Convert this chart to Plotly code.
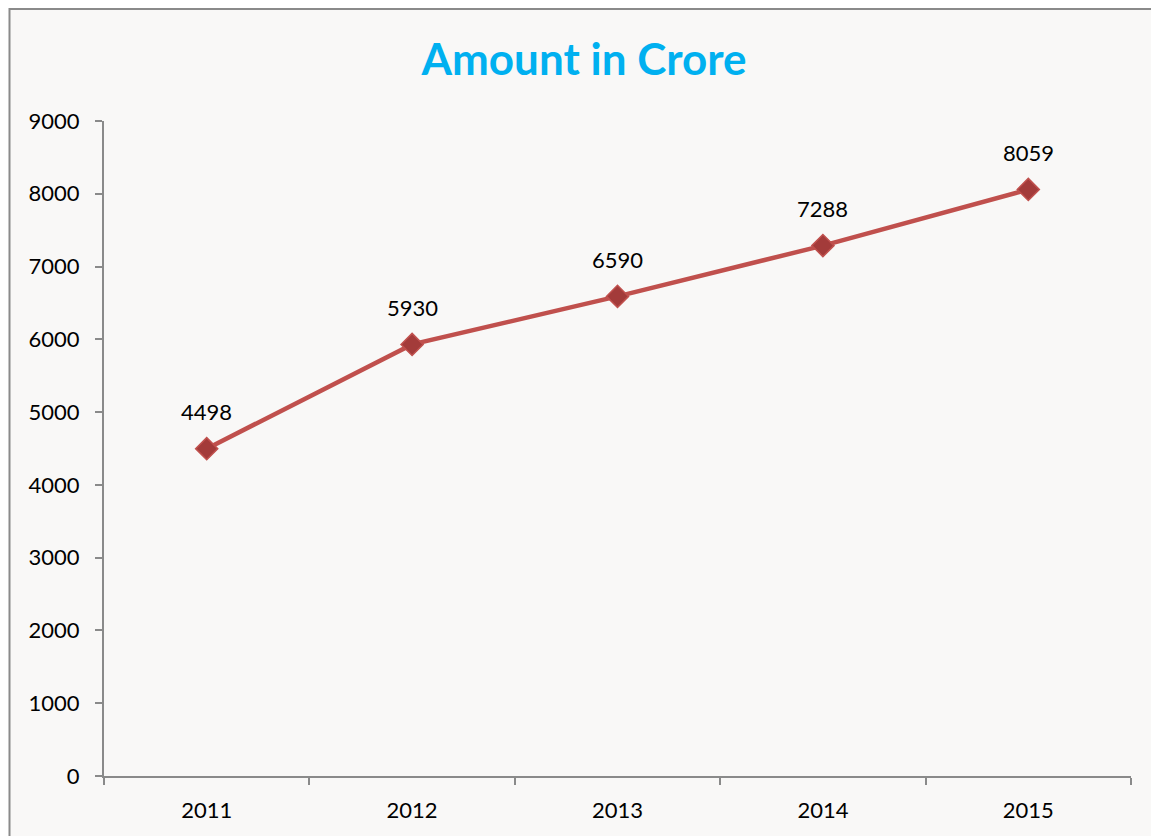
import plotly.graph_objects as go

years = ["2011", "2012", "2013", "2014", "2015"]
amounts = [4498, 5930, 6590, 7288, 8059]
y_ticks = [0, 1000, 2000, 3000, 4000, 5000, 6000, 7000, 8000, 9000]

W, H = 1151, 836
ML, MT = 104, 121
MR = W - 1131
MB = H - 776
PW = W - ML - MR
PH = H - MT - MB

FONT = "Lato"

fig = go.Figure()
fig.add_trace(go.Scatter(
    x=years, y=amounts, mode="lines+markers",
    line=dict(color="#c0504d", width=4.5),
    marker=dict(symbol="diamond", size=17, color="#a33b3a",
                line=dict(color="#c0504d", width=1.5)),
    hoverinfo="skip", showlegend=False,
))

for i, yv in enumerate(amounts):
    fig.add_annotation(x=i, y=yv, xref="x", yref="y", text=str(yv),
                       showarrow=False, yshift=37,
                       font=dict(family=FONT, size=22, color="#000000"))

# outer chart frame
fig.add_shape(type="rect", xref="paper", yref="paper",
              x0=(9.5 - ML) / PW, x1=(W + 20 - ML) / PW,
              y0=-(H + 20 - MT - PH) / PH, y1=(MT + PH - 9) / PH,
              line=dict(color="#8a8a8a", width=2), fillcolor="#f9f8f7",
              layer="below")

fig.update_layout(
    width=W, height=H,
    margin=dict(l=ML, r=MR, t=MT, b=MB),
    paper_bgcolor="#ffffff",
    plot_bgcolor="rgba(0,0,0,0)",
    title=dict(text="<b>Amount in Crore</b>", x=584 / W, xref="container",
               xanchor="center", y=1 - 60 / H, yref="container",
               yanchor="middle",
               font=dict(family=FONT, size=44, color="#00b0f0")),
    xaxis=dict(type="category", range=[-0.5, 4.5], tickson="boundaries",
               ticks="outside", ticklen=7, tickwidth=2, tickcolor="#8a8a8a",
               showline=True, linecolor="#8a8a8a", linewidth=2,
               showgrid=False, zeroline=False, ticklabelstandoff=14,
               tickfont=dict(family=FONT, size=22, color="#000000"),
               fixedrange=True),
    yaxis=dict(range=[0, 9000], tickvals=y_ticks, ticks="outside", ticklen=7,
               tickwidth=2, tickcolor="#8a8a8a", showline=True,
               linecolor="#8a8a8a", linewidth=2, showgrid=False,
               zeroline=False, ticklabelstandoff=11,
               tickfont=dict(family=FONT, size=22, color="#000000"),
               fixedrange=True),
)

fig.write_html("out.html",
               config={"displayModeBar": False, "staticPlot": True},
               post_script="document.body.style.margin='0';"
                           "document.body.style.overflow='hidden';")
